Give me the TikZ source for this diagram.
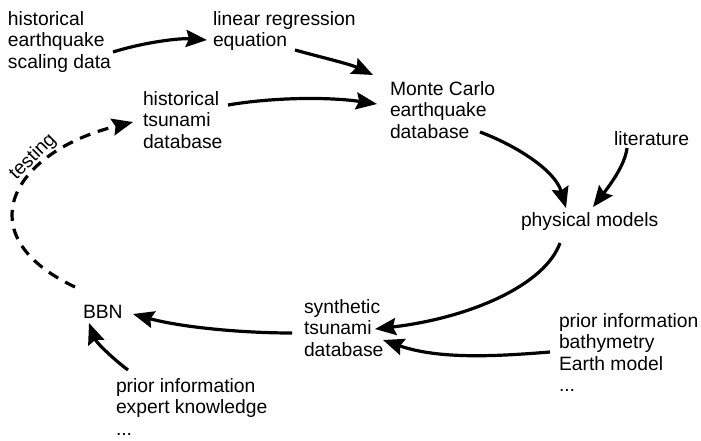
\documentclass[tikz,border=0pt]{standalone}
\usepackage{fontspec}
\setmainfont{Liberation Sans}
\usetikzlibrary{arrows.meta}
\begin{document}
\begin{tikzpicture}[x=1pt,y=-1pt,
  lbl/.style={anchor=north west,inner sep=0pt,outer sep=0pt,align=left,
    font=\fontsize{19.3}{21.5}\selectfont},
  flow/.style={line width=3.2pt,-{Stealth[length=21pt,width=17pt,inset=3pt]}},
  testflow/.style={flow,dash pattern=on 11pt off 8pt}]
\useasboundingbox (0,0) rectangle (701,440);

% statements
\node[lbl] (heq) at (8,11.4) {historical\\earthquake\\scaling data};
\node[lbl] (lre) at (213,11.4) {linear regression\\equation};
\node[lbl] (mc)  at (390,81.4) {Monte Carlo\\earthquake\\database};
\node[lbl] (htd) at (143,91.4) {historical\\tsunami\\database};
\node[lbl] (lit) at (614,131.4) {literature};
\node[lbl] (pm)  at (521,212.4) {physical models};
\node[lbl] (std) at (304,299.4) {synthetic\\tsunami\\database};
\node[lbl] (bbn) at (83,305) {BBN};
\node[lbl] (pie) at (116,378.4) {prior information\\expert knowledge\\...};
\node[lbl] (pib) at (559,313.4) {prior information\\bathymetry\\Earth model\\...};
\node[inner sep=0pt,rotate=45,font=\fontsize{19.3}{21.5}\selectfont] (tst) at (33,157) {testing};

% workflow arrows
\draw[flow] ([shift={(105,40.6)}]heq.north west) .. controls (145,42) and (180,38) .. ([shift={(-6,28.6)}]lre.north west);
\draw[flow] ([shift={(82,38.6)}]lre.north west) .. controls (320,57) and (350,64) .. ([shift={(-17,-6.4)}]mc.north west);
\draw[flow] ([shift={(85,13.6)}]htd.north west) .. controls (275,97) and (330,97) .. ([shift={(-13,22.6)}]mc.north west);
\draw[flow] ([shift={(90,50.6)}]mc.north west) .. controls (515,145) and (555,170) .. ([shift={(45,-4.4)}]pm.north west);
\draw[flow] ([shift={(13,16.6)}]lit.north west) .. controls (625,165) and (610,185) .. ([shift={(72,-5.4)}]pm.north west);
\draw[flow] ([shift={(39,30.6)}]pm.north west) .. controls (545,285) and (470,318) .. ([shift={(71,29.6)}]std.north west);
\draw[flow] ([shift={(-9,38.6)}]pib.north west) .. controls (500,356) and (440,360) .. ([shift={(79,40.6)}]std.north west);
\draw[flow] ([shift={(-12,33.6)}]std.north west) .. controls (240,333) and (180,327) .. ([shift={(50,9)}]bbn.north west);
\draw[flow] ([shift={(12,-8.4)}]pie.north west) .. controls (112,358) and (96,342) .. ([shift={(6,18)}]bbn.north west);

% validation loop
\draw[testflow] ([shift={(-8,-18)}]bbn.north west) .. controls (-35,235) and (12,152) .. ([shift={(-10,30.6)}]htd.north west);
\end{tikzpicture}
\end{document}
